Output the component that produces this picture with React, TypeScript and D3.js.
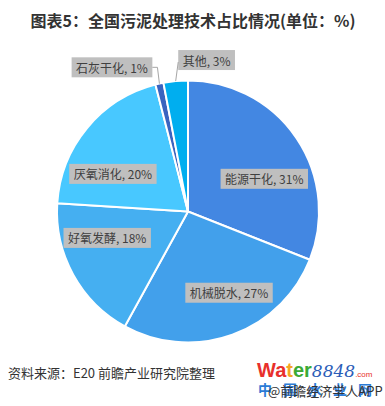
import React, { useEffect, useRef } from "react";
import * as d3 from "d3";

const categories = ["能源干化", "机械脱水", "好氧发酵", "厌氧消化", "石灰干化", "其他"];
const values = [31, 27, 18, 20, 1, 3];
const colors = ["#4387E2", "#42A0EB", "#45AFF1", "#48C8FF", "#3A63BF", "#00AEEF"];

const W = 385;
const H = 406;
const CX = 188;
const CY = 211.5;
const R = 131;
const FONT = "'Noto Sans CJK SC', 'Noto Sans', sans-serif";

// label layout: angular nudge (degrees) and radius for each label centre
const labelLayout = [
  { dA: 11, r: 83 },
  { dA: -7, r: 91 },
  { dA: 10.7, r: 85 },
  { dA: -13, r: 84 },
  { dA: -15.2, r: 163 },
  { dA: 12.4, r: 152.6 },
];

export default function App() {
  const ref = useRef<SVGSVGElement | null>(null);

  useEffect(() => {
    const svg = d3.select(ref.current);
    svg.selectAll("*").remove();

    svg
      .append("text")
      .attr("x", 193)
      .attr("y", 27)
      .attr("text-anchor", "middle")
      .attr("font-family", FONT)
      .attr("font-size", 16)
      .attr("font-weight", "bold")
      .attr("fill", "#333333")
      .text("图表5：全国污泥处理技术占比情况(单位：%)");

    const pie = d3
      .pie<number>()
      .sort(null)
      .value((d) => d)
      .startAngle(0)
      .endAngle(2 * Math.PI);
    const arcs = pie(values);
    const arc = d3.arc<d3.PieArcDatum<number>>().innerRadius(0).outerRadius(R);

    const g = svg.append("g").attr("transform", `translate(${CX},${CY})`);
    g.selectAll("path.slice")
      .data(arcs)
      .enter()
      .append("path")
      .attr("class", "slice")
      .attr("d", arc)
      .attr("fill", (_d, i) => colors[i])
      .attr("stroke", "#ffffff")
      .attr("stroke-width", 2)
      .attr("stroke-linejoin", "round");

    const polar = (a: number, r: number): [number, number] => [Math.sin(a) * r, -Math.cos(a) * r];

    arcs.forEach((d, i) => {
      const mid = (d.startAngle + d.endAngle) / 2;
      const lay = labelLayout[i];
      const [lx, ly] = polar(mid + (lay.dA * Math.PI) / 180, lay.r);
      const lg = g.append("g");
      const rect = lg.append("rect").attr("fill", "#BFBFBF");
      const t = lg
        .append("text")
        .attr("x", lx)
        .attr("y", ly)
        .attr("text-anchor", "middle")
        .attr("dominant-baseline", "central")
        .attr("font-family", FONT)
        .attr("font-size", 12)
        .attr("fill", "#404040")
        .text(`${categories[i]}, ${values[i]}%`);
      const bb = (t.node() as SVGTextElement).getBBox();
      const bw = bb.width + 9;
      const bh = 20;
      rect
        .attr("x", lx - bw / 2)
        .attr("y", ly - bh / 2)
        .attr("width", bw)
        .attr("height", bh);

      if (lay.r > R) {
        const [px, py] = polar(mid, R);
        let pts: [number, number][];
        if (lx < px) {
          const ex = lx + bw / 2;
          pts = [
            [ex, ly],
            [px - 2, ly],
            [px, py],
          ];
        } else {
          const ex = lx - bw / 2;
          pts = [
            [ex, ly + 2],
            [px, py],
          ];
        }
        g.append("path")
          .attr("d", d3.line()(pts) as string)
          .attr("fill", "none")
          .attr("stroke", "#A6A6A6")
          .attr("stroke-width", 1);
      }
    });

    svg
      .append("text")
      .attr("x", 8)
      .attr("y", 378)
      .attr("font-family", FONT)
      .attr("font-size", 13)
      .attr("fill", "#333333")
      .text("资料来源：E20 前瞻产业研究院整理");

    // logo text
    const logo = svg
      .append("text")
      .attr("x", 257)
      .attr("y", 377)
      .attr("font-family", "'Liberation Sans', Arial, sans-serif")
      .attr("font-weight", "bold")
      .attr("font-size", 20);
    const parts: [string, string][] = [
      ["W", "#E8302C"],
      ["a", "#E8302C"],
      ["t", "#F5A623"],
      ["e", "#3BAA35"],
      ["r", "#3BAA35"],
    ];
    parts.forEach(([s, c]) => logo.append("tspan").attr("fill", c).text(s));
    logo
      .append("tspan")
      .attr("fill", "#2B5DB8")
      .attr("font-family", "'DejaVu Serif', serif")
      .attr("font-style", "italic")
      .attr("font-weight", "normal")
      .attr("font-size", 17)
      .text("8848");
    logo
      .append("tspan")
      .attr("fill", "#E8302C")
      .attr("font-weight", "normal")
      .attr("font-size", 8)
      .text(".com");

    svg
      .append("text")
      .attr("x", 258)
      .attr("y", 395)
      .attr("font-family", FONT)
      .attr("font-weight", "bold")
      .attr("font-size", 14)
      .attr("letter-spacing", 11)
      .attr("fill", "#2B7BD6")
      .text("中国水业网");

    svg
      .append("text")
      .attr("x", 268)
      .attr("y", 396)
      .attr("font-family", FONT)
      .attr("font-size", 13)
      .attr("fill", "#333333")
      .text("@前瞻经济学人APP");
  }, []);

  return (
    <svg
      ref={ref}
      width={W}
      height={H}
      style={{ position: "absolute", left: 0, top: 0, background: "#ffffff" }}
    />
  );
}
